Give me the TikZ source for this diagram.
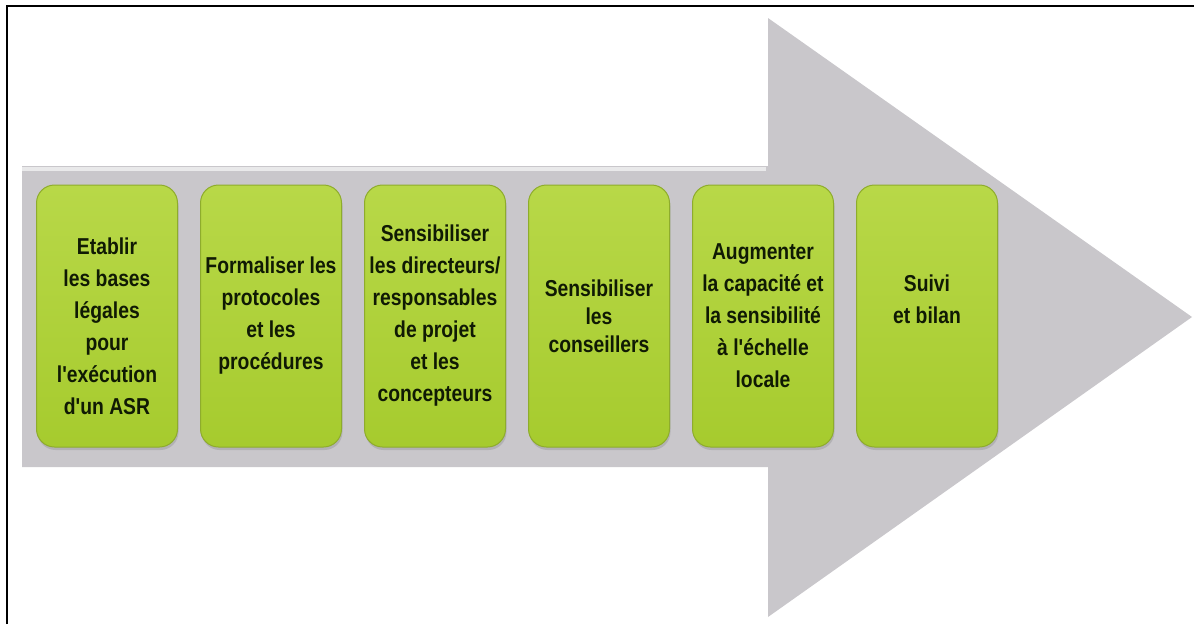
\documentclass[tikz,border=0pt]{standalone}
\usepackage{fontspec}
\newfontfamily\stepfont{Liberation Sans}[FakeStretch=0.84]
\usetikzlibrary{positioning,shadows}

\definecolor{arrowgray}{RGB}{201,199,203}
\definecolor{stepgreen}{RGB}{166,203,46}
\definecolor{steplight}{RGB}{184,216,72}
\definecolor{stepedge}{RGB}{142,172,44}
\definecolor{steptext}{RGB}{16,26,4}

\begin{document}
\begin{tikzpicture}[x=1pt, y=-1pt,
        stepbox/.style={rounded corners=18pt, minimum width=141pt, minimum height=262pt,
            inner sep=0pt, outer sep=0pt, draw=stepedge, line width=1pt,
            top color=steplight, bottom color=stepgreen,
            drop shadow={opacity=0.3, shadow xshift=1pt, shadow yshift=-3pt}},
        steplabel/.style={align=center, text=steptext, inner sep=0pt,
            font=\stepfont\bfseries\fontsize{23}{32}\selectfont}]
    \useasboundingbox (0,0) rectangle (1194,624);

    % big arrow
    \fill[arrowgray] (22,166) -- (768,166) -- (768,18) -- (1192,317) -- (768,617)
        -- (768,467) -- (22,467) -- cycle;
    \draw[white!60!arrowgray, line width=4pt] (22,169) -- (766,169);

    % steps
    \node[stepbox] (b1) at (107,316) {};
    \node[stepbox, right=23pt of b1] (b2) {};
    \node[stepbox, right=23pt of b2] (b3) {};
    \node[stepbox, right=23pt of b3] (b4) {};
    \node[stepbox, right=23pt of b4] (b5) {};
    \node[stepbox, right=23pt of b5] (b6) {};

    \node[steplabel] (t1) at ([yshift=-10pt]b1.center) {Etablir\\les bases\\légales\\pour\\l'exécution\\d'un ASR};
    \node[steplabel] (t2) at (b2.center) {Formaliser les\\protocoles\\et les\\procédures};
    \node[steplabel] (t3) at (b3.center) {Sensibiliser\\les directeurs/\\responsables\\de projet\\et les\\concepteurs};
    \node[steplabel] (t4) at (b4.center) {Sensibiliser\\[-4pt]les\\[-4pt]conseillers};
    \node[steplabel] (t5) at (b5.center) {Augmenter\\la capacité et\\la sensibilité\\à l'échelle\\locale};
    \node[steplabel] (t6) at ([yshift=17pt]b6.center) {Suivi\\et bilan};

    \draw[line width=2pt] (7,624) -- (7,6) -- (1194,6);
\end{tikzpicture}
\end{document}
